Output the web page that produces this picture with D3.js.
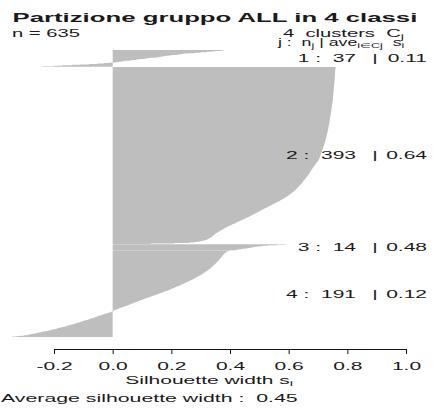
<!DOCTYPE html>
<html>
<head>
<meta charset="utf-8">
<script src="https://cdn.jsdelivr.net/npm/d3@7"></script>
<style>
  html, body { margin: 0; padding: 0; background: #ffffff; }
  svg { display: block; }
  text { font-family: "Liberation Sans", Arial, Helvetica, sans-serif; fill: #1a1a1a; }
</style>
</head>
<body>
<svg id="chart" width="440" height="409"></svg>
<script>
// Silhouette widths s(i) per cluster, each sorted from largest to smallest
const chartTitle = "Partizione gruppo ALL in 4 classi";
const clusterIds = [1, 2, 3, 4];

const silCluster1 = [
  0.38,0.37,0.35,0.34,0.32,0.30,0.28,0.26,0.24,0.23,
  0.22,0.20,0.19,0.18,0.17,0.16,0.15,0.13,0.12,0.11,
  0.09,0.08,0.07,0.06,0.04,0.03,0.02,0.01,-0.01,-0.03,
  -0.05,-0.08,-0.11,-0.14,-0.17,-0.20,-0.24
];

const silCluster2 = [
  0.760,0.760,0.760,0.759,0.759,0.759,0.759,0.759,0.759,0.759,
  0.758,0.758,0.758,0.758,0.758,0.758,0.758,0.758,0.758,0.758,
  0.757,0.757,0.757,0.757,0.757,0.757,0.757,0.757,0.757,
  0.757,0.756,0.756,0.756,0.756,0.756,0.756,0.756,0.755,0.755,
  0.755,0.755,0.755,0.755,0.755,0.754,0.754,0.754,0.754,0.754,
  0.754,0.754,
  0.754,0.753,0.753,0.753,0.753,0.753,0.753,0.752,0.752,0.752,
  0.752,0.752,0.752,0.752,0.751,0.751,0.751,0.751,0.751,0.751,
  0.751,0.751,
  0.751,0.750,0.750,0.750,0.750,0.749,0.749,0.749,0.749,0.748,
  0.748,0.748,0.748,0.748,0.747,0.747,0.747,0.747,0.746,0.746,
  0.746,0.746,
  0.746,0.745,0.745,0.745,0.745,0.744,0.744,0.744,0.744,0.743,
  0.743,0.743,0.743,0.742,0.742,0.742,0.742,0.741,0.741,0.741,
  0.741,0.740,0.740,
  0.740,0.740,0.739,0.739,0.739,0.739,0.738,0.738,0.738,0.738,
  0.737,0.737,0.737,0.736,0.736,0.736,0.736,0.735,0.735,0.735,
  0.734,0.734,
  0.734,0.733,0.733,0.733,0.732,0.732,0.732,0.731,0.731,0.731,
  0.730,0.730,0.729,0.729,0.729,0.728,0.728,0.728,0.727,0.727,
  0.726,0.726,
  0.726,0.725,0.725,0.724,0.724,0.723,0.723,0.722,0.722,0.721,
  0.721,0.720,0.720,0.719,0.719,0.718,0.718,0.717,0.717,0.716,
  0.715,0.715,
  0.714,0.714,0.713,0.713,0.712,0.712,0.711,0.711,0.710,0.710,
  0.709,0.709,0.708,0.708,0.707,0.707,0.706,0.706,0.705,0.704,
  0.704,0.703,0.702,
  0.701,0.700,0.699,0.698,0.697,0.696,0.694,0.693,0.692,0.691,
  0.690,0.689,0.688,0.686,0.685,
  0.684,0.683,0.682,0.681,0.680,0.679,0.678,0.677,0.676,0.675,
  0.674,0.673,0.672,0.671,0.670,0.669,0.668,0.667,
  0.666,0.665,0.664,0.663,0.661,0.660,0.659,0.658,0.656,0.655,
  0.654,0.653,0.651,0.650,0.649,0.648,0.647,0.646,
  0.645,0.643,0.642,0.640,0.639,0.637,0.636,0.634,0.633,0.631,
  0.630,0.628,0.627,0.625,0.624,
  0.623,0.621,0.619,0.617,0.615,0.613,0.611,0.609,0.607,0.605,
  0.603,0.601,0.599,0.597,0.595,0.592,
  0.590,0.587,0.585,0.582,0.579,0.577,0.574,0.571,0.569,0.566,
  0.563,
  0.560,0.557,0.554,0.551,0.548,0.545,0.542,0.539,0.536,0.533,
  0.530,
  0.527,0.524,0.521,0.518,0.515,0.512,0.509,0.506,0.503,0.501,
  0.498,
  0.495,0.492,0.489,0.486,0.483,0.480,0.477,0.474,0.471,0.468,
  0.465,
  0.462,0.459,0.455,0.452,0.449,0.445,0.442,0.439,0.435,0.432,
  0.428,
  0.425,0.422,0.419,0.416,0.413,0.409,0.406,0.403,0.399,0.396,
  0.393,0.390,
  0.387,0.384,0.381,0.379,0.376,0.373,0.370,0.368,0.365,0.363,
  0.360,0.358,0.355,
  0.352,0.350,0.348,0.347,0.345,0.343,0.341,0.340,0.338,
  0.336,0.333,0.330,0.327,0.324,0.321,
  0.318,0.312,0.305,0.297,0.288,0.280,0.260,0.210,0.130
];

const silCluster3 = [
  0.59,0.56,0.53,0.51,0.50,0.49,0.48,0.47,0.46,0.45,
  0.44,0.43,0.42,0.40
];

const silCluster4 = [
  0.392,0.389,0.387,0.385,0.383,0.381,0.380,0.378,0.377,
  0.375,0.374,0.373,0.372,0.370,0.369,0.368,0.367,0.366,0.364,0.363,
  0.362,0.360,0.359,0.357,0.356,0.354,0.353,0.351,0.350,0.348,0.347,
  0.345,0.343,0.342,0.340,0.338,0.336,0.334,0.333,0.331,0.329,0.327,
  0.325,0.323,0.321,0.318,0.316,0.314,0.311,0.309,0.307,0.304,0.302,
  0.300,0.297,0.294,0.291,0.288,0.285,0.282,0.280,0.277,0.274,0.271,
  0.268,0.265,0.262,0.258,0.255,0.252,0.248,0.245,0.242,0.238,0.235,
  0.232,0.228,0.225,0.221,0.217,0.214,0.210,0.206,0.203,0.199,0.196,
  0.192,0.188,0.184,0.180,0.175,0.171,0.167,0.163,0.159,0.155,0.150,0.146,
  0.142,0.138,0.133,0.129,0.125,0.120,0.116,0.112,0.107,0.103,0.099,
  0.095,0.091,0.087,0.083,0.079,0.075,0.071,0.067,0.063,0.060,0.056,
  0.052,0.048,0.043,0.039,0.035,0.031,0.026,0.022,
  0.018,0.014,0.010,0.005,0.003,0.001,
  -0.002,-0.006,-0.011,-0.016,-0.021,-0.026,-0.031,-0.036,
  -0.040,-0.044,-0.049,-0.053,-0.058,-0.062,-0.067,-0.071,-0.076,-0.080,-0.085,
  -0.090,-0.095,-0.100,-0.105,-0.110,-0.115,-0.120,-0.125,-0.130,-0.135,-0.140,
  -0.145,-0.151,-0.157,-0.163,-0.168,-0.174,-0.180,-0.186,-0.192,-0.198,-0.204,
  -0.210,-0.217,-0.224,-0.232,-0.239,-0.246,-0.254,-0.261,-0.268,-0.276,-0.283,
  -0.290,-0.302,-0.314,-0.327,-0.342
];

const xTickValues = [-0.2, 0.0, 0.2, 0.4, 0.6, 0.8, 1.0];
const xTickLabels = ["-0.2", "0.0", "0.2", "0.4", "0.6", "0.8", "1.0"];
const xAxisTitle = "Silhouette width s";
const avgLabel = "Average silhouette width :";

const clusters = [silCluster1, silCluster2, silCluster3, silCluster4];

// ---- layout ----
const svg = d3.select("#chart");
const barColor = "#bebebe";
const stretch = 2.1;           // horizontal widening of the lettering
const fmt2 = d3.format(".2f");

// stack clusters top to bottom, one empty bar slot between clusters
let cursor = 0;
const groups = clusters.map((vals, k) => {
  const start = cursor + (k > 0 ? 1 : 0);
  cursor = start + vals.length;
  return { id: clusterIds[k], vals, start, end: cursor, mean: d3.mean(vals) };
});
const totalSlots = cursor;
const allValues = clusters.flat();

const x = d3.scaleLinear().domain([-0.2, 1.0]).range([54, 406]);
const y = d3.scaleLinear().domain([0, totalSlots]).range([50, 337]);

// bars: each observation is a horizontal bar from 0 to s(i); drawn as one outline per cluster
const barArea = d3.area()
  .y(d => y(d.t))
  .x0(x(0))
  .x1(d => x(d.v));

groups.forEach(g => {
  const pts = [];
  g.vals.forEach((v, i) => {
    pts.push({ v, t: g.start + i });
    pts.push({ v, t: g.start + i + 1 });
  });
  svg.append("path")
    .datum(pts)
    .attr("d", barArea)
    .attr("fill", barColor);
});

// helper: text stretched horizontally to a target width
function fitWidth(sel, width) {
  const w = sel.node().getComputedTextLength();
  const x0 = +sel.attr("data-x"), y0 = +sel.attr("data-y");
  sel.attr("transform", `translate(${x0},${y0}) scale(${width / w},1)`);
}

// title
const titleText = svg.append("text")
  .attr("data-x", 12.5).attr("data-y", 21.7)
  .attr("font-size", 12.5).attr("font-weight", "bold")
  .text(chartTitle);
fitWidth(titleText, 405);

// n = total
const nText = svg.append("text")
  .attr("data-x", 12).attr("data-y", 36.8)
  .attr("font-size", 10)
  .text(`n = ${allValues.length}`);
fitWidth(nText, 68);

// right-hand header
const hdr1 = svg.append("text")
  .attr("data-x", 283).attr("data-y", 36.8)
  .attr("font-size", 10);
hdr1.append("tspan").text(`${groups.length}\u00a0 clusters\u00a0 C`);
hdr1.append("tspan").attr("font-size", 7).attr("dy", 2).text("j");
fitWidth(hdr1, 121);

const hdr2 = svg.append("text")
  .attr("data-x", 278).attr("data-y", 46.3)
  .attr("font-size", 10);
hdr2.append("tspan").text("j :\u00a0 n");
hdr2.append("tspan").attr("font-size", 7).attr("dy", 2).text("j");
hdr2.append("tspan").attr("dy", -2).text(" | ave");
hdr2.append("tspan").attr("font-size", 7).attr("dy", 2).text("i\u2208Cj");
hdr2.append("tspan").attr("dy", -2).text("\u00a0\u00a0s");
hdr2.append("tspan").attr("font-size", 7).attr("dy", 2).text("i");
fitWidth(hdr2, 126);

// per-cluster labels: "j :  n | average"
groups.forEach(g => {
  const cy = y((g.start + g.end) / 2) + 3.6;
  svg.append("text")
    .attr("font-size", 10).attr("text-anchor", "end")
    .attr("transform", `translate(356,${cy}) scale(${stretch},1)`)
    .text(`${g.id} :\u00a0\u00a0${g.vals.length}`);
  svg.append("text")
    .attr("font-size", 10).attr("text-anchor", "middle")
    .attr("transform", `translate(375,${cy}) scale(${stretch},1)`)
    .text("|");
  svg.append("text")
    .attr("font-size", 10).attr("text-anchor", "end")
    .attr("transform", `translate(427,${cy}) scale(${stretch},1)`)
    .text(fmt2(g.mean));
});

// x axis
const axis = svg.append("g")
  .attr("transform", "translate(0,349)")
  .call(d3.axisBottom(x)
    .tickValues(xTickValues)
    .tickFormat((d, i) => xTickLabels[i])
    .tickSize(5)
    .tickSizeOuter(0)
    .tickPadding(9));
axis.select(".domain").attr("stroke", "#111").attr("stroke-width", 1);
axis.selectAll(".tick line").attr("stroke", "#111");
axis.selectAll(".tick text")
  .attr("font-family", null)
  .attr("font-size", 10)
  .attr("fill", "#1a1a1a")
  .attr("transform", `scale(${stretch},1)`);
axis.attr("font-family", null).attr("font-size", null);

// axis title, centred on the plotted range
const xMid = x((d3.min(allValues) + 1) / 2);
const axTitle = svg.append("text")
  .attr("font-size", 10).attr("text-anchor", "middle")
  .attr("transform", `translate(${xMid},384.3) scale(${stretch},1)`);
axTitle.append("tspan").text(xAxisTitle);
axTitle.append("tspan").attr("font-size", 7).attr("dy", 2).text("i");

// overall average
const avgText = svg.append("text")
  .attr("data-x", 1).attr("data-y", 401.6)
  .attr("font-size", 10)
  .text(`${avgLabel}\u00a0 ${fmt2(d3.mean(allValues))}`);
fitWidth(avgText, 297);
</script>
</body>
</html>
